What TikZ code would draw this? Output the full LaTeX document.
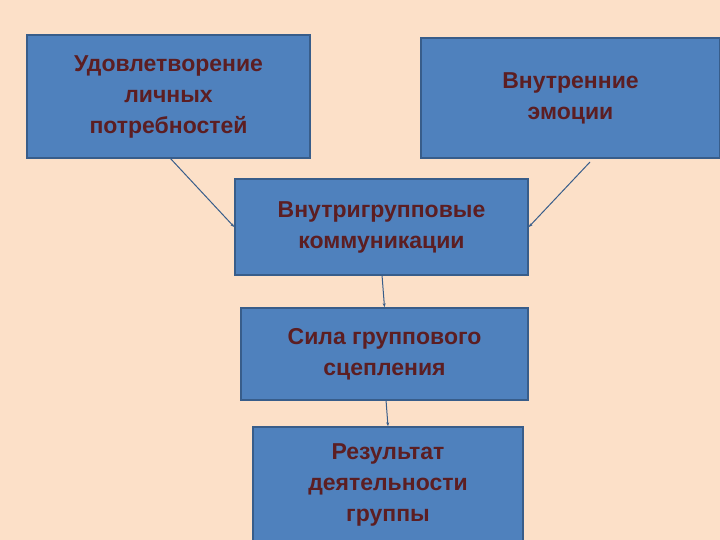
\documentclass[tikz,border=0pt]{standalone}
\usepackage{fontspec}
\setmainfont{Liberation Sans}
\usetikzlibrary{arrows.meta}
\definecolor{bg}{HTML}{FCE0C8}
\definecolor{boxf}{HTML}{4F81BD}
\definecolor{boxd}{HTML}{385D8A}
\definecolor{txt}{HTML}{5C1E22}
\begin{document}
\begin{tikzpicture}[x=1pt,y=-1pt,
  box/.style={draw=boxd,line width=1.5pt,fill=boxf,text=txt,font=\fontsize{23}{31}\selectfont\bfseries,align=center,inner sep=0pt},
  conn/.style={draw=boxd,line width=1pt,-{Stealth[length=4pt,width=3pt]}}]
\fill[bg] (0,0) rectangle (720,540);
\useasboundingbox (0,0) rectangle (720,540);
\node[box,minimum width=283pt,minimum height=123pt] (a) at (168.5,96.5) {Удовлетворение\\личных\\потребностей};
\node[box,minimum width=299pt,minimum height=120pt] (b) at (570.5,98) {Внутренние\\эмоции};
\node[box,minimum width=293pt,minimum height=96pt] (c) at (381.5,227) {Внутригрупповые\\коммуникации};
\node[box,minimum width=287pt,minimum height=92pt] (d) at (384.5,354) {Сила группового\\сцепления};
\node[box,minimum width=270pt,minimum height=116pt] (e) at (388,485) {Результат\\деятельности\\группы};
\draw[conn] (170,158) -- (c.west);
\draw[conn] (590,162) -- (c.east);
\draw[conn] (382,275) -- (d.north);
\draw[conn] (386,400) -- (e.north);
\end{tikzpicture}
\end{document}
